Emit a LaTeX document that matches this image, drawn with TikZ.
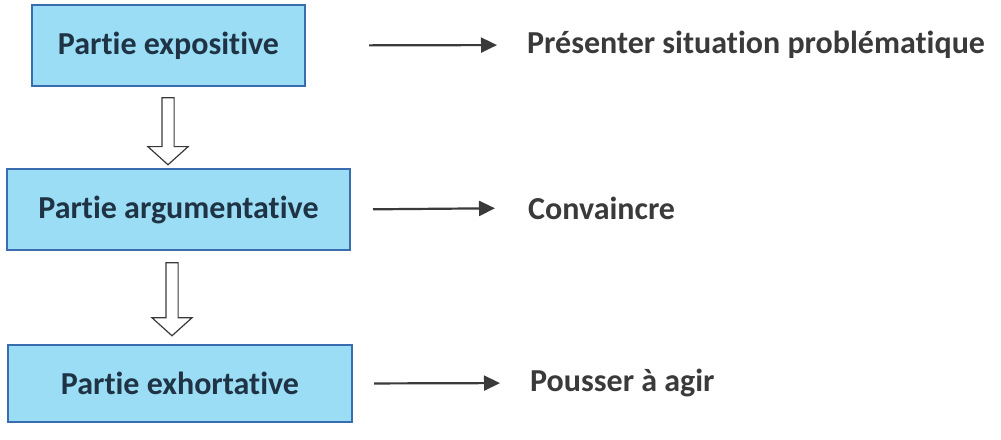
\documentclass[tikz,border=0pt]{standalone}
\usepackage{fontspec}
\setmainfont{Carlito}[Ligatures=NoCommon]
\usetikzlibrary{arrows.meta,shapes.arrows}
\definecolor{boxfill}{HTML}{9ADDF5}
\definecolor{boxline}{HTML}{3A6DB0}
\definecolor{boxtext}{HTML}{1F3345}
\definecolor{labtext}{HTML}{3A3A3A}
\tikzset{
  partie/.style={draw=boxline,line width=2pt,fill=boxfill,minimum height=81pt,
    text=boxtext,font=\fontsize{32}{38}\selectfont\bfseries},
  but/.style={anchor=west,inner sep=0pt,text=labtext,font=\fontsize{32}{38}\selectfont\bfseries},
  flow/.style={->,draw=labtext,line width=2.2pt},
  suite/.style={single arrow,draw=labtext,line width=1.2pt,fill=white,shape border rotate=270,
    inner sep=5.5pt,single arrow head extend=14pt,single arrow tip angle=96}
}
\begin{document}
\begin{tikzpicture}[>={Triangle[length=16pt,width=15pt]},x=1pt,y=-1pt]
	\useasboundingbox (0,0) rectangle (1001,439);
	\node[partie,minimum width=273pt] (e1) at (168.5,45.5) {Partie expositive};
	\node[partie,minimum width=343pt] (e2) at (178.5,209.5) {Partie argumentative};
	\node[partie,minimum width=344pt,minimum height=77pt] (e3) at (180,383.5) {Partie exhortative};
	\node[suite,minimum height=67pt] (s1) at (168,128.5) {};
	\node[suite,minimum height=73pt] (s2) at (172,296.5) {};
	
	\node[but] (l1) at (527,45) {Présenter situation problématique};
	\node[but] (l2) at (528,208) {Convaincre};
	\node[but] (l3) at (530,383) {Pousser à agir};
	\draw[flow,shorten <=63pt,shorten >=30pt] (e1.east) -- (l1.west);
	\draw[flow,shorten <=22pt,shorten >=33pt] (e2.east) -- (l2.west);
	\draw[flow,shorten <=21pt,shorten >=30pt] (e3.east) -- (l3.west);
\end{tikzpicture}
\end{document}
